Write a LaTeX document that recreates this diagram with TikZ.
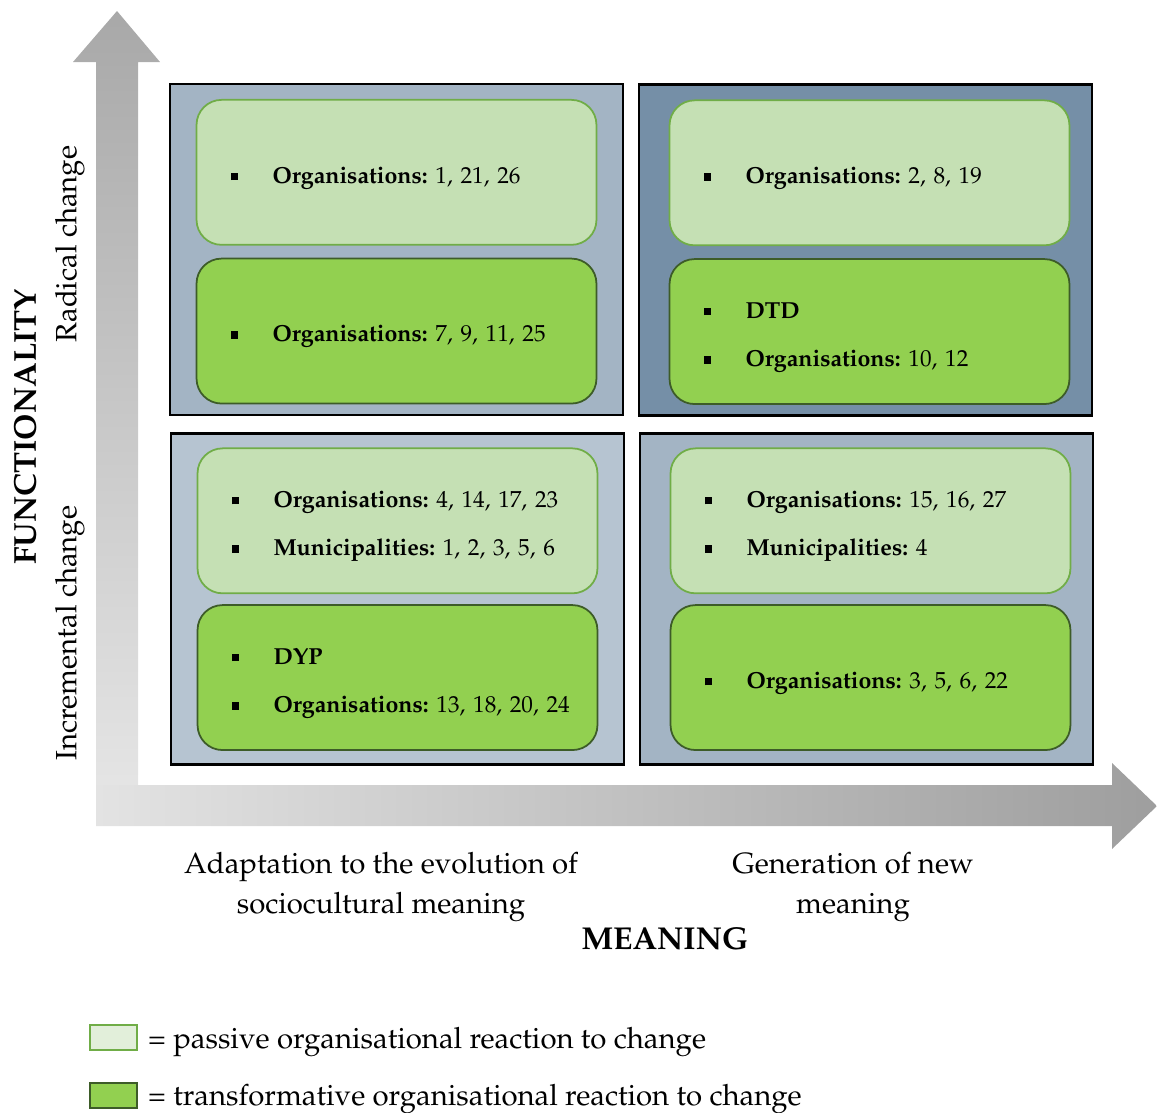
\documentclass[tikz,border=0pt]{standalone}
\usepackage[T1]{fontenc}
\usepackage{mathpazo}
\usetikzlibrary{positioning, shadings}

\definecolor{quadmid}{HTML}{A3B4C4}
\definecolor{quaddark}{HTML}{758FA7}
\definecolor{quadlight}{HTML}{B6C4D1}
\definecolor{passfill}{HTML}{C5E0B4}
\definecolor{passline}{HTML}{70AD47}
\definecolor{actfill}{HTML}{92D050}
\definecolor{actline}{HTML}{3D5C28}
\definecolor{legfill}{HTML}{E2EFDA}

\frenchspacing
\newcommand{\bul}{\rule{0pt}{0.55cm}\hspace*{0.3cm}\makebox[0.84cm][l]{\rule[0.06cm]{0.15cm}{0.15cm}}}

\begin{document}
\begin{tikzpicture}[x=0.02cm, y=-0.02cm, node distance=0.24cm,
    quad/.style={draw, line width=1.2pt, minimum width=9.06cm, minimum height=6.62cm},
    reaction/.style={rounded corners=0.5cm, line width=1pt, minimum width=8cm, minimum height=2.9cm,
        text width=7.24cm, inner xsep=0.38cm, align=left, font=\fontsize{13.2}{27.5}\selectfont},
    passive/.style={reaction, fill=passfill, draw=passline},
    active/.style={reaction, fill=actfill, draw=actline},
    axislabel/.style={font=\fontsize{16.7}{23}\selectfont, align=center},
    legbox/.style={line width=1pt, minimum width=0.94cm, minimum height=0.5cm, inner sep=0pt}]
    \useasboundingbox (0,0) rectangle (1157,1113);

    % axes
    \shade[top color=black!34, bottom color=black!10]
        (96,800) -- (96,62) -- (73,62) -- (117,11) -- (160,62) -- (138,62) -- (138,800) -- cycle;
    \shade[left color=black!11, right color=black!38]
        (96,785) -- (1112,785) -- (1112,763) -- (1157,806) -- (1112,849) -- (1112,826) -- (96,826) -- cycle;

    % quadrants
    \node[quad, fill=quadmid] (q1) at (396.5,249.5) {};
    \node[quad, fill=quaddark] (q2) at (865.5,250) {};
    \node[quad, fill=quadlight] (q3) at (397.5,599) {};
    \node[quad, fill=quadmid] (q4) at (866.5,599) {};

    \node[passive, below=0.32cm of q1.north] (p1) {\bul\textbf{Organisations:} 1, 21, 26};
    \node[active, below=of p1] (a1) {\bul\textbf{Organisations:} 7, 9, 11, 25};
    \node[passive, below=0.32cm of q2.north, xshift=0.08cm] (p2) {\bul\textbf{Organisations:} 2, 8, 19};
    \node[active, below=of p2] (a2) {\bul\textbf{DTD}\\\bul\textbf{Organisations:} 10, 12};
    \node[passive, below=0.3cm of q3.north] (p3) {\bul\textbf{Organisations:} 4, 14, 17, 23\\\bul\textbf{Municipalities:} 1, 2, 3, 5, 6};
    \node[active, below=0.2cm of p3] (a3) {\bul\textbf{DYP}\\\bul\textbf{Organisations:} 13, 18, 20, 24};
    \node[passive, below=0.3cm of q4.north, xshift=0.08cm] (p4) {\bul\textbf{Organisations:} 15, 16, 27\\\bul\textbf{Municipalities:} 4};
    \node[active, below=0.2cm of p4] (a4) {\bul\textbf{Organisations:} 3, 5, 6, 22};

    % axis labels
    \node[axislabel, rotate=90, font=\fontsize{18}{22}\bfseries] (func) at (25,427) {FUNCTIONALITY};
    \node[axislabel, rotate=90] (radical) at (70,244) {Radical change};
    \node[axislabel, rotate=90] (incr) at (70,633) {Incremental change};
    \node[axislabel] (adapt) at (381,887) {Adaptation to the evolution of\\sociocultural meaning};
    \node[axislabel] (gener) at (853,887) {Generation of new\\meaning};
    \node[axislabel, font=\fontsize{18}{22}\bfseries] (meaning) at (665,939) {MEANING};

    % legend
    \node[legbox, fill=legfill, draw=passline] (lg1) at (113.5,1037.5) {};
    \node[axislabel, anchor=west, inner xsep=0.2cm, yshift=-0.1cm] (lt1) at (lg1.east) {= passive organisational reaction to change};
    \node[legbox, fill=actfill, draw=actline] (lg2) at (113.5,1095.5) {};
    \node[axislabel, anchor=west, inner xsep=0.2cm, yshift=-0.08cm] (lt2) at (lg2.east) {= transformative organisational reaction to change};
\end{tikzpicture}
\end{document}
